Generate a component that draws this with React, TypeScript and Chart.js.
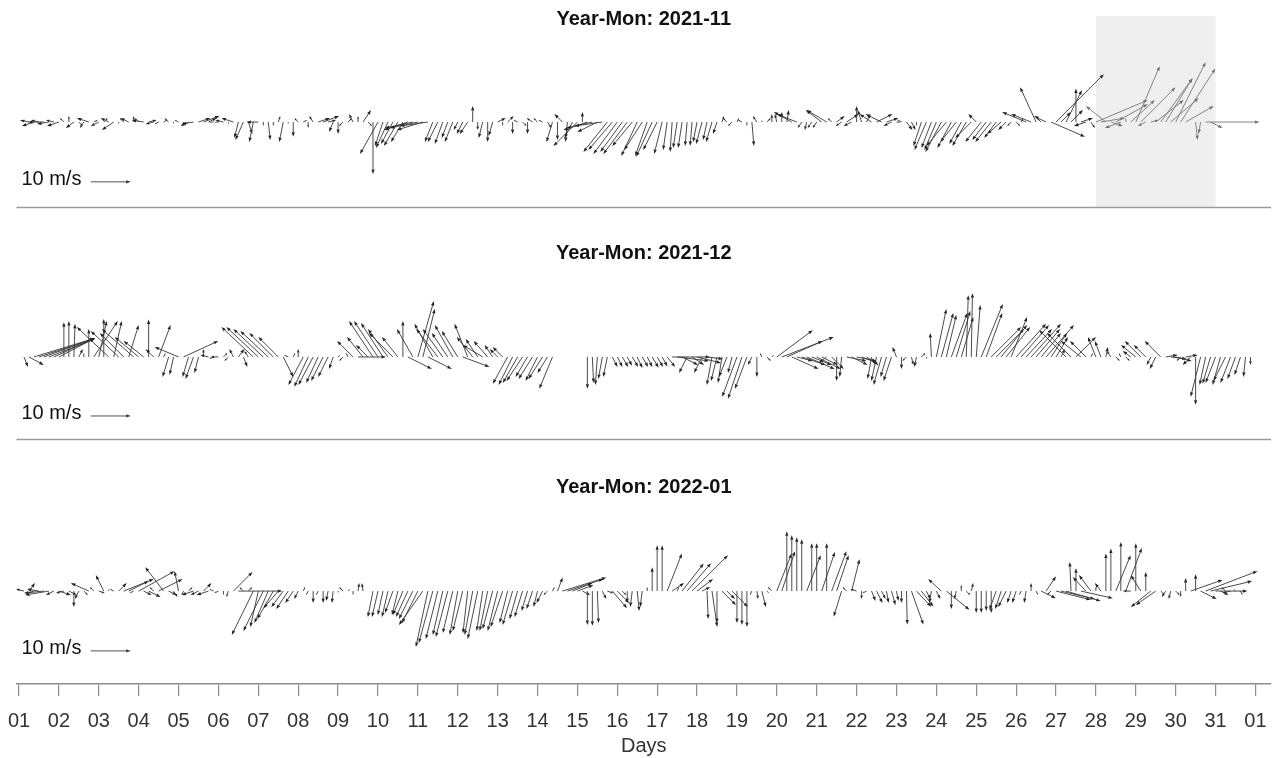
import React, { useEffect, useRef } from 'react';
import { Chart, registerables } from 'chart.js';

Chart.register(...registerables);

// ---------------- data ----------------
const STEPS_PER_DAY = 8; // 3-hourly wind vectors

const dayTickLabels = [
  '01', '02', '03', '04', '05', '06', '07', '08', '09', '10', '11', '12', '13', '14', '15', '16',
  '17', '18', '19', '20', '21', '22', '23', '24', '25', '26', '27', '28', '29', '30', '31', '01',
];

const panelTitles = ['Year-Mon: 2021-11', 'Year-Mon: 2021-12', 'Year-Mon: 2022-01'];
const axisTitle = 'Days';
const scaleLabel = '10 m/s';
const scaleSpeed = 10; // m/s
const highlightDays = [28, 31]; // shaded interval in 2021-11

// 2021-11 (u = eastward, v = northward, m/s)
const novU = [
  0, -1, -2, -3, -2, -4, -3, -2,
  -3, -1, 0, -2, 1, -1, -3, 1,
  -2, 1, -2, -3, 0, -1, -2, 0,
  -1, -3, 2, -2, -1, 1, -1, 0,
  -1, 0, -2, -3, 3, 4, 2, -1,
  -1, -2, 0, -3, -1, -2, 1, -1,
  -3, 0, 0.5, 0, 0.5, -1, 0, 0,
  -1, 1, 0, -1, 3, 4, 2, -1,
  0, -1, 1, -1, 0, 2, 1, 0,
  -4.5, -2, -3, -3, -3.5, -3, -6, -7,
  -7, -6.5, -7, -2, -2.5, -2, -1.5, -2,
  -1, -1.5, -2, 0, 0, -1, 0, -1,
  2, 0, 1.5, 0, -1, 1, 0, -1.5,
  -1, -1, 1, -1.5, 0, -2, -0.5, -2,
  -6, 0, -6, -6.5, -5, -7, -6, -6,
  -6, -5.5, -6, -5, -4, -4.5, -3, -4,
  -3.5, -2, -1, -0.5, -1, -1, -0.5, -0.5,
  -1, -1.5, -1, -1.5, -1, 0.5, -1, -1,
  0.5, -1, 0, 0.5, -1, 0, 1, 0,
  -0.5, 0, 0.5, -4.5, -5, -1, -0.5, -1,
  -1, -4, -5, -1, 2, -1.5, 3, -2,
  0, -1, 1, -3, 4, -4, 3, -2,
  1, -1, 1.5, 1, 0, -2, -3, -2.5,
  -3, -4, -5, -3.5, -4, -3, -3.5, -4,
  -2, -4, -3.5, -4, -3, -3.5, -2, -1,
  1, 0.5, -6, -5, -4, -1, -3, 8.5,
  12, 2.5, 4, 3, 0, 3, -3, 1,
  13, 6, -5, 3, 8, -4, 0, 6,
  6, 8.7, -2, 2, 7, 8, 6.7, 7,
  7.5, 8.7, 7, 0, 0.5, -0.5, 13.5, 3,
];
const novV = [
  0, 0.5, 0.5, -1, 0.5, 0, -0.5, 0.5,
  -1, 1, 1.5, -1.5, -1, -1.5, 1, 0.5,
  -1, 1, 1, -2, -0.5, 1, 1, 1.5,
  1, 0.5, 0.5, -0.5, -0.5, 0.5, 1, -0.5,
  0.5, -0.5, -1, -0.5, 1, 1.5, 1, 0,
  0, 0.5, -0.5, 1, -4, -4.5, -3, -5,
  0, -1, -4.5, -1, 1.5, -5, -0.5, -3.7,
  1, 0.5, -1.5, 1.5, 1, 1.5, 0.5, -2.5,
  -3, -1, 1, 2, 1.5, 3, -1, -13,
  -8, -6, -6.5, -5.5, -6, -5, -2, -1.5,
  -1.5, -2, -1, -5, -5, -5.5, -4, -5,
  -2, -3, -3, 4, -2, -4, -5, -3.5,
  1, -1, 1.5, -3, 0.5, -1, -3, 1,
  1, 0.5, -1.5, -5, -4.5, 2, -5, -4,
  -6, 2.5, -2, -1.5, -2.5, -1, -7.5, -7,
  -8, -7.5, -8, -6, -8.5, -7, -8.5, -8.7,
  -7, -8, -7, -7.5, -6.5, -6.5, -6, -6,
  -5, -5.5, -4.5, -5, -3, 1.5, 1, -1,
  1, 0.5, -1, -6, 1.5, 0.5, 1, 2,
  2, 2.5, 3, 2.5, 2, -1.5, -2, -1.5,
  -1.5, 3, 3, 1, 1.5, -1, 2, -1,
  4, 3, 2, 2, 2, 2, 1, -1,
  0, 0.5, -2, -2, -1, -6, -7, -6.5,
  -7, -7.5, -6, -6.5, -5, -5.5, -6, -4,
  2, -5, -4.5, -5, -4, -3, -2, -1,
  -1, 1, 2.5, 2, 8.7, 1, 1.5, -3.7,
  12, 2.5, 8, 3, 8.4, 1, -1, -1.5,
  5.5, 1, 4, -1, 4.5, -1.5, 1, 5.5,
  14, 8.7, -1, 0.5, 5.5, 11, 11, 6,
  15, 13.4, 4, 0, -4.5, -3, 0, -1.5,
];

// 2021-12
const decU = [
  0, 1, 3.7, 15.3, 14, 12.7, 11.5, 10.2,
  9, 0, 0, 0.3, 1, 0, 0, 6,
  2, 0, -8, 2, -7, -6, 2.5, -8,
  -6, -5, 0, -2, 3, 0.5, -1.5, -1,
  -6, 8.7, -1.5, -2, -1, 0, -2, -1,
  -2, 1, -1, -1, 1.5, 1, -1, -8,
  -8, -7.5, -7, -6, -5, 2.5, -1, 0.5,
  0, -3.7, -3.5, -3.7, -3, -3, -2.5, -1,
  0.5, -1, -0.5, -4, 7, -4, -3, -6,
  -6, -5.5, -5, -6, -4, 0, 6, -4,
  4, 3, 6, -4.6, -5.4, -5, -4, -4.5,
  -4, 6.7, -3.3, -4, -3, -5, -3.5, -2,
  -2, -2.5, -3.7, -3.5, -3.7, -4, -3, -3.5,
  -3, -3.5, -2.5, -3.3, null, null, null, null,
  null, null, 0, 0.3, -0.5, -1, -1, 1.3,
  1.3, 1.5, 1.2, 1.5, 1.3, 1.5, 1.3, 1.6,
  1.5, 1.3, 2, 9.5, 8, 4, -2, 3,
  6, -2, 4, -1.3, -1.5, -1, -2, -1,
  -3.7, -3.5, -3, -1, 0, -0.5, 1, 0.5,
  9, 13, 9, 6.7, 4, 6, 7, 5,
  6, 4, -2, 3, 0, -0.5, 5, 4,
  5, 4, 3, -1, -1.3, -2, -1.5, -2,
  -1, 0, -1, 0.5, -0.5, 1, 0, -0.3,
  2.5, 3, 2.5, 4, 3.5, 3, 0.5, 0.3,
  1, 5.4, 4, 7.5, 7, 6.5, 6, 4,
  7.5, 7, 6.5, 7.5, 6, 5, 7, 4,
  3, 1, -6.7, -6, 5, -5, -4, 0.5,
  -2, -1.5, 0.5, -1, 1, -0.5, 1, -2,
  -3.7, -4, -3, -1, -1.5, -4, 3, 4,
  4, -1, 3, -2, 0, -2.5, -1.5, -2,
  -2.5, -2, -3, -2.5, -2, -1.5, -0.5, 0,
];
const decV = [
  0, -2.5, -2, 4.7, 4.6, 4.7, 4.5, 4.7,
  4.7, 8.7, 9, 8.3, 2, 1, 7, 9,
  9, 9.5, 7.5, 9, 6.5, 6, 8, 7,
  5, 4, 9.4, 2, 8, 1, -5, -4.5,
  2.5, 4, -5, -5.5, -4, 2, 0.5, -0.5,
  0, 1, -1, 2, 2, -2.5, 1.5, 7.5,
  7.5, 7, 6.5, 6, 5, -5, 0.5, 1,
  2, -7, -7.5, -7, -6.5, -6, -5, -3,
  0.5, -1, 1, 4, 0, 5, 3, 9,
  9, 8.5, 7, 6, 5, 9, -3, 7,
  14, 12, -3, 8.3, 7, 7, 6, 8,
  6.5, -2.5, 8.3, 5, 4.5, 3, 4, 3,
  2, 2.5, -6.7, -7, -6.5, -6, -5, -5.5,
  -6, -5.5, -4, -8, null, null, null, null,
  null, null, -8, -6.5, -7, -5.5, -5, -2.5,
  -2.5, -2.5, -2.2, -2.5, -2.8, -2.5, -2.5, -2.7,
  -2.5, -2.4, -2.5, 0, -1, -2, -4, -2,
  -1.5, -4, -0.5, -7, -6, -6.5, -5, -4,
  -10, -10.5, -8, -2, -5, 1, -1, 0.5,
  6.7, 5, 4, -3, -1, -2, -3, -2,
  -3, -2, -1.5, -3, -6, -5, -1, -2,
  -1, -1.5, -2, -5.5, -6, -7, -5, -6,
  2.5, -3, -1, -2, -2.5, 1, -0.5, 6,
  12, 11, 10.5, 11, 11.5, 10, 15.5, 16,
  13, 13.3, 11, 7.5, 7, 8, 7.5, 10,
  8.3, 8, 7, 8.3, 7, 6, 8, 6,
  5, 2, 6.7, 6, 5, 4, 4, 1,
  5, 4, 2.5, 1.5, -1, 1, -1, 1.5,
  3, 4, 3, -2, -3, 4, 0.5, -0.5,
  -1, -1, 0.5, -2, -12, -10, -7, -6.7,
  -6.5, -7, -6, -6.5, -5.5, -4.5, -5, -2,
];

// 2022-01
const janU = [
  0, -2, 1.5, -1.5, -3, -5, -6, -2,
  3, -2, 2, 0, -1, 1, -4.5, -1,
  1.5, -2, 0, -1, 2, 7.5, 5, -1,
  9, 2, 3, -1, 6, -4.6, 2, 1,
  -1, -0.5, 1, -3, -2, 2, -3, -1,
  -1, 0, -0.5, 4.8, 11, -1, 1, -5.4,
  -2, -5, -3.5, -4, -3.7, -3, -3, -2,
  -1, 0.5, -0.5, 0, -0.5, 0, -0.5, -0.3,
  0, -1, 0.5, 0, 0.3, -0.3, 0, -1.3,
  -1.5, -1.3, -1.5, -2, -1.5, -2.5, -3, -3.5,
  -4, -6, -3, -3.5, -3, -2.5, -3, -2.5,
  -2, -2.5, -1.2, -2, -2.5, -1.5, -2, -2.5,
  -2.5, -3, -2, -2.5, -2, -2, -1.5, -1.5,
  -1, -1.5, -1, 0.5, 1.3, 11, 9, 5,
  4, 2, 0, 0, 0.3, 1, 1.5, 3.7,
  3, 1, 0, -0.5, 0.5, -0.5, 0, 0,
  0, 0, 3.7, 3, 0.5, 5.4, 6, 9,
  4, 2, 0.3, 1.3, 0, 3.5, 2, 4,
  0, 0, 0, -0.5, 0.3, 1, 0.5, -1,
  3.7, 3.3, 0, 0, 0, 0, 3.5, 0,
  0, 3.3, 0, 3.7, 3, -2, -1, 2,
  -1.5, 0, -1, 1, 1.5, 1, 0.5, 1,
  0.5, 0, 0.2, 3, 3.7, 3, 1, -0.5,
  1, -3.3, 5.8, 0, -0.5, 0, 1, 0.5,
  0, 0, 0, 0, -1.7, -1.5, -2, -1,
  -1, -0.5, -0.5, 0, 0.5, 3.7, 2.5, -1,
  8.7, 8.5, 8.7, -0.3, 0, 8, -3.3, -3,
  0, -1.5, 0, 0, 3.7, 0, 4, -2,
  0, -2.5, 0, -5, -5, 1, -1, -0.5,
  1, 0, 0, 8, 0, 4, 13, 10.4,
  8, 2, -1, -2, -0.5, 0.5, 0, 0,
];
const janV = [
  0, 0.5, 2, -0.5, 0.5, -0.5, -1, -1,
  -1, -0.5, -1, -4, -2, -1, 2, 1,
  -0.5, 4, 0.5, 0.5, 2, 3, 2.5, -0.5,
  5, -1, -1.5, 1, 3, 6, -1, -1.5,
  5, -1, 1, -1, -1, 2, -1, 0.5,
  -0.5, -1, -1.5, 4.8, 0, 1, 1, -11,
  -9, -10, -8, -7, -4.3, -4, -4.5, -3,
  -2, 1, -1, -3, -1, -3, -2.5, -3,
  -0.5, 1, 0.5, -1, 2, 2, 0, -6.5,
  -6.5, -6, -6.5, -5.5, -6, -6, -6.5, -7,
  -8, -8.5, -14, -13, -12, -11, -11.5, -10.5,
  -11, -10, -10.6, -11, -12, -10, -10, -9.5,
  -10, -9, -8, -8.5, -7, -6.5, -5, -4.5,
  -4, -3, -1, 1, 3.4, 3.4, 3, 2,
  1.5, -1, -8.5, -8.7, -8, -2, -0.5, -4.3,
  -3, -1, -3, -4, -5, -4, 1, 6,
  11.5, 11.5, 9.4, 2, 1, 6.9, 7, 9,
  3, 1, -7, -9, -8, -3.5, -2, -4,
  -8, -8.5, -9, -1, -2, -4, -0.5, 1,
  9.4, 10, 15, 14, 13.5, 13, 9, 12,
  12, 9.8, 12, 10, 9, -6.4, 1, 8,
  0.5, -2, -0.5, -2.5, -3, -2, -3, -3.5,
  -2.5, -3, -8.4, -8.4, -3.9, -3.9, -2, -3,
  -2, 3, -4.7, -4.5, -2, 1.5, -1, 2,
  -5.5, -5.5, -5, -5.5, -4.7, -4.5, -4, -3,
  -3, -1, -3, 2, -1, -1.8, 3.7, -1,
  -2.2, -2, -2.5, 7.3, 5.7, -1.8, 3.5, 4,
  1, 2, 9.4, 10.7, 9, 12.3, 10.8, 0,
  12, 4, 4.8, -4, -3.5, -1, -1.5, -2,
  -1, -1.5, 3.3, 2.8, 4.2, -2, 5, 2.5,
  0, -1, 1, -0.5, 0.5, -1, 0, 0,
];

// ---------------- layout (y in m/s units, 0 = top of plot) ----------------
const X_MIN = 0.937;
const X_MAX = 32.39;
const Y_MIN = -171.5;
const Y_MAX = 0;
const AXIS_BOX_HEIGHT = 74;
const PANEL_BASE = [-30.6, -89.5, -148.2];
const PANEL_TITLE_Y = [-4.8, -63.5, -122.2];
const PANEL_SCALE_Y = [-45.6, -104.3, -163.2];
const PANEL_SEPARATORS = [-51.9, -110.1];
const SHADE_TOP = -4.0;
const SCALE_ARROW_START = 2.8; // day position of the reference arrow
const SCALE_TEXT_X = 1.06;

const FONT = "'Liberation Sans', Arial, Helvetica, sans-serif";

function drawArrow(ctx: CanvasRenderingContext2D, x0: number, y0: number, x1: number, y1: number, lineColor: string, headColor: string) {
  const dx = x1 - x0;
  const dy = y1 - y0;
  const len = Math.hypot(dx, dy);
  if (len < 0.6) return;
  const head = Math.min(4.5, len * 0.45);
  const hw = head * 0.36;
  const ux = dx / len;
  const uy = dy / len;
  const bx = x1 - ux * head;
  const by = y1 - uy * head;
  ctx.strokeStyle = lineColor;
  ctx.fillStyle = headColor;
  ctx.lineWidth = 1;
  ctx.beginPath();
  ctx.moveTo(x0, y0);
  ctx.lineTo(bx, by);
  ctx.stroke();
  ctx.beginPath();
  ctx.moveTo(x1, y1);
  ctx.lineTo(bx - uy * hw, by + ux * hw);
  ctx.lineTo(bx + uy * hw, by - ux * hw);
  ctx.closePath();
  ctx.fill();
}

const stickPlugin = {
  id: 'windSticks',
  beforeDatasetsDraw(chart: any) {
    const { ctx, scales, chartArea } = chart;
    const x = scales.x;
    const y = scales.y;
    ctx.save();
    // shaded interval in first panel
    const sx0 = x.getPixelForValue(highlightDays[0]);
    const sx1 = x.getPixelForValue(highlightDays[1]);
    const sy0 = y.getPixelForValue(SHADE_TOP);
    const sy1 = y.getPixelForValue(PANEL_SEPARATORS[0]);
    ctx.fillStyle = '#efefef';
    ctx.fillRect(sx0, sy0, sx1 - sx0, sy1 - sy0);
    // panel separators
    ctx.strokeStyle = '#9a9a9a';
    ctx.lineWidth = 1.5;
    PANEL_SEPARATORS.forEach((sv) => {
      const py = Math.round(y.getPixelForValue(sv)) + 0.5;
      ctx.beginPath();
      ctx.moveTo(chartArea.left, py);
      ctx.lineTo(chartArea.right, py);
      ctx.stroke();
    });
    ctx.restore();
  },
  afterDatasetsDraw(chart: any) {
    const { ctx, scales, chartArea } = chart;
    const x = scales.x;
    const y = scales.y;
    const pxPerUnit = (v: number) => x.getPixelForValue(v / scaleSpeed) - x.getPixelForValue(0);
    ctx.save();
    chart.data.datasets.forEach((ds: any, di: number) => {
      const meta = chart.getDatasetMeta(di);
      meta.data.forEach((pt: any, i: number) => {
        const d = ds.data[i];
        const x0 = pt.x;
        const y0 = pt.y;
        const x1 = x.getPixelForValue(d.x + d.u / scaleSpeed);
        const y1 = y0 - pxPerUnit(d.v);
        const shaded = di === 0 && d.x >= highlightDays[0] && d.x < highlightDays[1];
        if (shaded) drawArrow(ctx, x0, y0, x1, y1, 'rgba(125,125,125,0.95)', 'rgba(110,110,110,1)');
        else drawArrow(ctx, x0, y0, x1, y1, 'rgba(55,55,55,0.9)', 'rgba(35,35,35,1)');
      });
    });
    // titles and scale arrows
    const cx = (chartArea.left + chartArea.right) / 2;
    panelTitles.forEach((t, i) => {
      ctx.fillStyle = '#111';
      ctx.font = `bold 20px ${FONT}`;
      ctx.textAlign = 'center';
      ctx.textBaseline = 'middle';
      ctx.fillText(t, cx, y.getPixelForValue(PANEL_TITLE_Y[i]));
      const ly = y.getPixelForValue(PANEL_SCALE_Y[i]);
      ctx.font = `20px ${FONT}`;
      ctx.textAlign = 'left';
      ctx.fillText(scaleLabel, x.getPixelForValue(SCALE_TEXT_X), ly - 2);
      const ax0 = x.getPixelForValue(SCALE_ARROW_START);
      const ax1 = x.getPixelForValue(SCALE_ARROW_START + 1);
      drawArrow(ctx, ax0, ly, ax1, ly, 'rgba(70,70,70,0.95)', 'rgba(50,50,50,1)');
    });
    ctx.restore();
  },
};

function buildDataset(u: (number | null)[], v: (number | null)[], base: number) {
  const data: any[] = [];
  u.forEach((uu, i) => {
    const vv = v[i];
    if (uu === null || vv === null) return;
    data.push({ x: 1 + i / STEPS_PER_DAY, y: base, u: uu, v: vv });
  });
  return {
    data,
    pointRadius: 0,
    pointHoverRadius: 0,
    showLine: false,
    borderColor: 'rgba(0,0,0,0)',
    backgroundColor: 'rgba(0,0,0,0)',
  };
}

export default function App() {
  const canvasRef = useRef<HTMLCanvasElement | null>(null);

  useEffect(() => {
    if (!canvasRef.current) return;
    const chart = new Chart(canvasRef.current, {
      type: 'scatter',
      data: {
        datasets: [
          buildDataset(novU, novV, PANEL_BASE[0]),
          buildDataset(decU, decV, PANEL_BASE[1]),
          buildDataset(janU, janV, PANEL_BASE[2]),
        ],
      },
      options: {
        animation: false,
        responsive: false,
        maintainAspectRatio: false,
        events: [],
        layout: { padding: { left: 16.5, right: 5, top: 0, bottom: 0 } },
        plugins: { legend: { display: false }, tooltip: { enabled: false } },
        scales: {
          x: {
            type: 'linear',
            min: X_MIN,
            max: X_MAX,
            afterBuildTicks: (scale: any) => {
              scale.ticks = dayTickLabels.map((_, i) => ({ value: i + 1 }));
            },
            afterFit: (scale: any) => {
              scale.paddingLeft = 0;
              scale.paddingRight = 0;
              scale.height = AXIS_BOX_HEIGHT;
            },
            ticks: {
              autoSkip: false,
              maxRotation: 0,
              minRotation: 0,
              padding: 13,
              color: '#333',
              font: { family: FONT, size: 20 },
              callback: (value: any) => dayTickLabels[Math.round(Number(value)) - 1],
            },
            grid: { drawOnChartArea: false, drawTicks: true, tickLength: 12, color: '#8c8c8c', lineWidth: 1.2 },
            border: { display: true, color: '#8c8c8c', width: 1.5 },
            title: {
              display: true,
              text: axisTitle,
              color: '#333',
              font: { family: FONT, size: 20 },
              padding: { top: 0, bottom: 0 },
            },
          },
          y: { type: 'linear', min: Y_MIN, max: Y_MAX, display: false },
        },
      },
      plugins: [stickPlugin],
    } as any);
    return () => chart.destroy();
  }, []);

  return (
    <div style={{ position: 'absolute', left: 0, top: 0, width: 1276, height: 758, background: '#fff' }}>
      <canvas ref={canvasRef} width={1276} height={758} style={{ display: 'block' }} />
    </div>
  );
}
